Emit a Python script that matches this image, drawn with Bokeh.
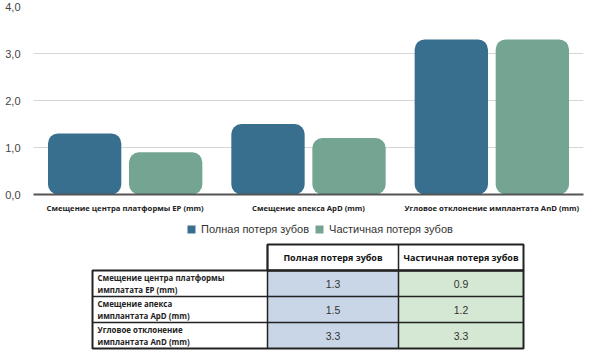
from bokeh.plotting import figure
from bokeh.models import (ColumnDataSource, FactorRange, Range1d, FixedTicker, Legend, LegendItem)
from bokeh.layouts import column
from bokeh.transform import dodge
from bokeh.core.properties import value
from bokeh.embed import file_html
from bokeh.resources import INLINE

# ---- data ----
categories = ["Смещение центра платформы EP (mm)",
              "Смещение апекса ApD (mm)",
              "Угловое отклонение имплантата AnD (mm)"]
series_names = ["Полная потеря зубов", "Частичная потеря зубов"]
full_loss = [1.3, 1.5, 3.3]
partial_loss = [0.9, 1.2, 3.3]
table_row_labels = ["Смещение центра платформы\nимплатата EP (mm)",
                    "Смещение апекса\nимплантата ApD (mm)",
                    "Угловое отклонение\nимплантата AnD (mm)"]
y_ticks = [0, 1, 2, 3, 4]
y_tick_labels = ["0,0", "1,0", "2,0", "3,0", "4,0"]

BLUE = "#386f8e"
GREEN = "#74a592"
CELL_BLUE = "#c9d6e7"
CELL_GREEN = "#d5e8d3"
LABEL_FONT = "Open Sans"
SANS = "Liberation Sans"

# ---- chart ----
CH = 216
p = figure(x_range=FactorRange(factors=categories), y_range=Range1d(0, 4),
           width=591, height=CH, output_backend="svg",
           toolbar_location=None, min_border_left=33, min_border_right=8,
           min_border_top=6, min_border_bottom=22)
p.outline_line_color = None
src = ColumnDataSource(dict(cat=categories, full=full_loss, partial=partial_loss))
r1 = p.vbar(x=dodge("cat", -0.221, range=p.x_range), top="full", width=0.4,
            source=src, fill_color=BLUE, line_color=None, border_radius=10)
r2 = p.vbar(x=dodge("cat", 0.221, range=p.x_range), top="partial", width=0.4,
            source=src, fill_color=GREEN, line_color=None, border_radius=10)

p.xgrid.grid_line_color = None
p.ygrid.grid_line_color = "#d6d6d6"
p.ygrid.grid_line_width = 1
p.yaxis.ticker = FixedTicker(ticks=y_ticks)
p.yaxis.major_label_overrides = {t: l for t, l in zip(y_ticks, y_tick_labels)}
p.yaxis.axis_line_color = None
p.yaxis.major_tick_line_color = None
p.yaxis.minor_tick_line_color = None
p.yaxis.major_label_standoff = 7
p.yaxis.major_label_text_font = SANS
p.yaxis.major_label_text_font_size = "11px"
p.yaxis.major_label_text_color = "#444444"

p.xaxis.axis_line_color = "#555555"
p.xaxis.axis_line_width = 2
p.xaxis.major_tick_line_color = None
p.xaxis.minor_tick_line_color = None
p.xaxis.major_label_standoff = 2
p.xaxis.major_label_text_font = LABEL_FONT
p.xaxis.major_label_text_font_style = "bold"
p.xaxis.major_label_text_font_size = "7.7px"
p.xaxis.major_label_text_color = "#222222"

# ---- table (with legend) ; coordinates in page pixels, offset by chart height ----
TH = 351 - CH
t = figure(width=591, height=TH, x_range=Range1d(33, 583), y_range=Range1d(TH, 0),
           output_backend="svg", toolbar_location=None,
           min_border_left=33, min_border_right=8,
           min_border_top=0, min_border_bottom=0)
t.axis.visible = False
t.grid.visible = False
t.outline_line_color = None

# legend keys (glyphs placed outside the visible range, carrying the series colours)
k1 = t.quad(left=[-60], right=[-50], top=[-60], bottom=[-50], fill_color=BLUE, line_color=None)
k2 = t.quad(left=[-60], right=[-50], top=[-60], bottom=[-50], fill_color=GREEN, line_color=None)
legend = Legend(items=[LegendItem(label=series_names[0], renderers=[k1]),
                       LegendItem(label=series_names[1], renderers=[k2])],
                orientation="horizontal", location=(153, TH - 19),
                glyph_width=10, glyph_height=10, label_standoff=5, spacing=5,
                border_line_color=None, background_fill_alpha=0,
                label_text_font=SANS, label_text_font_size="11px",
                label_text_color="#333333", padding=0, margin=0,
                label_height=10)
t.add_layout(legend, "center")

col_edges = [92, 267, 398, 523]
row_edges = [244 - CH, 270 - CH, 296 - CH, 322 - CH, 348 - CH]
n = len(table_row_labels)
row_top = row_edges[1:1 + n]
row_bot = row_edges[2:2 + n]
row_mid = [(a + b) / 2 for a, b in zip(row_top, row_bot)]
c2 = (col_edges[1] + col_edges[2]) / 2
c3 = (col_edges[2] + col_edges[3]) / 2

t.quad(left=[col_edges[1]] * n, right=[col_edges[2]] * n, top=row_top, bottom=row_bot,
       fill_color=CELL_BLUE, line_color=None)
t.quad(left=[col_edges[2]] * n, right=[col_edges[3]] * n, top=row_top, bottom=row_bot,
       fill_color=CELL_GREEN, line_color=None)
# grid lines
t.segment(x0=[col_edges[0]] * (n - 1), x1=[col_edges[3]] * (n - 1),
          y0=row_edges[2:1 + n], y1=row_edges[2:1 + n], line_color="#222222", line_width=1.5)
t.segment(x0=[col_edges[1], col_edges[2]], x1=[col_edges[1], col_edges[2]],
          y0=[row_edges[0]] * 2, y1=[row_edges[-1]] * 2, line_color="#222222", line_width=1.5)
t.segment(x0=[col_edges[1]], x1=[col_edges[3]], y0=[row_edges[1]], y1=[row_edges[1]],
          line_color="#222222", line_width=1.5)
# outer borders
t.quad(left=[col_edges[0]], right=[col_edges[3]], top=[row_edges[1]], bottom=[row_edges[-1]],
       fill_color=None, line_color="#222222", line_width=2)
t.quad(left=[col_edges[1]], right=[col_edges[3]], top=[row_edges[0]], bottom=[row_edges[1]],
       fill_color=None, line_color="#222222", line_width=2)

hdr_y = (row_edges[0] + row_edges[1]) / 2
t.text(x=[c2, c3], y=[hdr_y, hdr_y], text=series_names, text_align="center",
       text_baseline="middle", text_font=value(LABEL_FONT), text_font_style="bold",
       text_font_size="9px", text_color="#111111")
t.text(x=[col_edges[0] + 5] * n, y=row_mid, text=table_row_labels, text_align="left",
       text_baseline="middle", text_font=value(LABEL_FONT), text_font_style="bold",
       text_font_size="7.9px", text_color="#222222", text_line_height=1.2)
t.text(x=[c2] * n, y=row_mid, text=[str(v) for v in full_loss], text_align="center",
       text_baseline="middle", text_font=value(SANS), text_font_size="10.5px",
       text_color="#333333")
t.text(x=[c3] * n, y=row_mid, text=[str(v) for v in partial_loss], text_align="center",
       text_baseline="middle", text_font=value(SANS), text_font_size="10.5px",
       text_color="#333333")

layout = column(p, t, spacing=0)
open("out.html", "w").write(file_html(layout, INLINE))
